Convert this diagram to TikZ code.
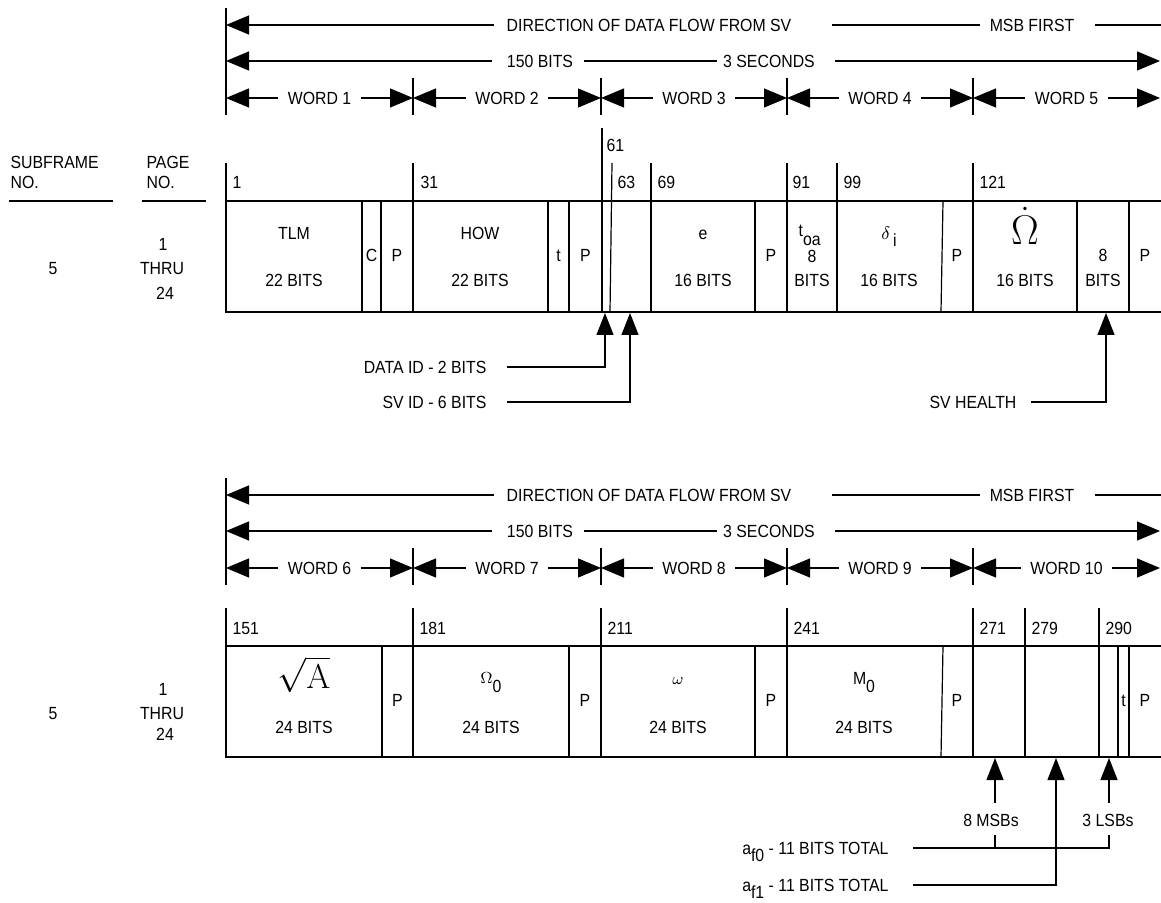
\documentclass[tikz,border=0pt]{standalone}
\usepackage[no-math]{fontspec}
\setmainfont{Liberation Sans}[FakeStretch=0.9]
\usetikzlibrary{arrows.meta}
\newcommand\tsz{\fontsize{8.8}{10}\selectfont}
\begin{document}
\begin{tikzpicture}[x=0.5pt,y=-0.5pt,line width=0.6pt,
  t/.style={inner sep=0pt,font=\tsz,text height=6.3pt,text depth=0pt},
  wl/.style={t,inner xsep=4.5pt},
  num/.style={t,anchor=west},
  >={Triangle[length=11.5pt,width=9.5pt]},
  ptr/.style={-{Triangle[length=11pt,width=8.5pt]}}]
\useasboundingbox (0,0) rectangle (1161,903);

% ---------- arrow rows (both sections) ----------
\foreach \s/\dy/\wofs in {A/0/1, B/470/6}{
  \draw (226,{8+\dy}) -- (226,{115+\dy});
  \node[t] (dir\s) at (649,{25+\dy}) {DIRECTION OF DATA FLOW FROM SV};
  \node[t] (msb\s) at (1032,{25+\dy}) {MSB FIRST};
  \coordinate (dl\s) at (226,{25+\dy});
  \coordinate (dr\s) at (1161,{25+\dy});
  \draw[<-] (dl\s) -- ([xshift=-6pt]dir\s.west);
  \draw ([xshift=20pt]dir\s.east) -- ([xshift=-4.5pt]msb\s.west);
  \draw ([xshift=10pt]msb\s.east) -- (dr\s);
  \node[t] (bits\s) at (540,{61+\dy}) {150 BITS};
  \node[t] (sec\s) at (769,{61+\dy}) {3 SECONDS};
  \coordinate (bl\s) at (226,{61+\dy});
  \coordinate (br\s) at (1160,{61+\dy});
  \draw[<-] (bl\s) -- ([xshift=-7pt]bits\s.west);
  \draw ([xshift=5pt]bits\s.east) -- ([xshift=-3pt]sec\s.west);
  \draw[->] ([xshift=10pt]sec\s.east) -- (br\s);
  \foreach \x in {413,601,787,973}
    \draw (\x,{78+\dy}) -- (\x,{115+\dy});
  \foreach \i/\xl/\xr in {0/226/413,1/413/601,2/601/787,3/787/973,4/973/1160}{
    \pgfmathtruncatemacro\wn{\i+\wofs}
    \node[wl] (w\s\i) at ({(\xl+\xr)/2},{98+\dy}) {WORD \wn};
    \coordinate (wl\s\i) at (\xl,{98+\dy});
    \coordinate (wr\s\i) at (\xr,{98+\dy});
    \draw[<-] (wl\s\i) -- (w\s\i.west);
    \draw[->] (w\s\i.east) -- (wr\s\i);
  }
}

% ---------- left headers ----------
\node[t,anchor=west] (sf1) at (10,162) {SUBFRAME};
\node[t,anchor=west] (sf2) at (10,182) {NO.};
\draw (9,201) -- (113,201);
\node[t,anchor=west] (pg1) at (146,162) {PAGE};
\node[t,anchor=west] (pg2) at (146,182) {NO.};
\draw (142,201) -- (206,201);
\node[t] (sfA) at (53,268) {5};
\node[t] (pgA1) at (163,244) {1};
\node[t] (pgA2) at (162,268) {THRU};
\node[t] (pgA3) at (165,293) {24};
\node[t] (sfB) at (53,713) {5};
\node[t] (pgB1) at (163,689) {1};
\node[t] (pgB2) at (162,713) {THRU};
\node[t] (pgB3) at (165,734) {24};

% ---------- top box ----------
\draw (226,163) -- (226,312) -- (1161,312);
\draw (226,201) -- (1161,201);
\foreach \x in {413,651,787,837,973} \draw (\x,163) -- (\x,312);
\draw (602,128) -- (602,312);
\draw (612,163) -- (610,312);
\foreach \x in {362,381,548,569,755,1077,1129} \draw (\x,201) -- (\x,312);
\draw (943,201) -- (941,312);
\node[num] (n1) at (232,182) {1};
\node[num] (n31) at (420,182) {31};
\node[num] (n61) at (606,145) {61};
\node[num] (n63) at (617,182) {63};
\node[num] (n69) at (657,182) {69};
\node[num] (n91) at (792,182) {91};
\node[num] (n99) at (843,182) {99};
\node[num] (n121) at (979,182) {121};

\node[t] (tlm) at (294,233) {TLM};
\node[t] (tlmb) at (294,280) {22 BITS};
\node[t] (c1) at (371.5,255) {C};
\node[t] (p1) at (397,255) {P};
\node[t] (how) at (480,233) {HOW};
\node[t] (howb) at (480,280) {22 BITS};
\node[t] (tt) at (558.5,255) {t};
\node[t] (p2) at (585.5,255) {P};
\node[t,text height=4.6pt] (ecc) at (703,235) {e};
\node[t] (eccb) at (703,280) {16 BITS};
\node[t] (p3) at (771,255) {P};
\node[inner sep=0pt,font=\tsz,anchor=base west,text depth=0pt] (toa) at (798,237) {t\raisebox{-4.5pt}{oa}};
\node[t] (toa8) at (812,256) {8};
\node[t] (toab) at (812,280) {BITS};
\node[inner sep=0pt,font=\tsz,anchor=base] (di) at (889,240) {$\delta$\,\raisebox{-3.5pt}{i}};
\node[t] (dib) at (889,280) {16 BITS};
\node[t] (p4) at (957,255) {P};
\node[inner sep=0pt,anchor=base,font=\fontsize{20}{20}\selectfont,text depth=0pt] (om) at (1025,245) {$\dot\Omega$};
\node[t] (omb) at (1025,280) {16 BITS};
\node[t] (h8) at (1103,255) {8};
\node[t] (h8b) at (1103,280) {BITS};
\node[t] (p5) at (1145,255) {P};

% top pointers
\coordinate (tipdid) at (605,313);
\coordinate (tipsid) at (630,313);
\coordinate (tiphl) at (1106,313);
\node[t,anchor=east] (did) at (487,367) {DATA ID - 2 BITS};
\node[t,anchor=east] (sid) at (487,402) {SV ID - 6 BITS};
\node[t,anchor=east] (hl) at (1017,402) {SV HEALTH};
\draw[ptr] ([xshift=10pt]did.east) -| (tipdid);
\draw[ptr] ([xshift=10pt]sid.east) -| (tipsid);
\draw[ptr] ([xshift=7pt]hl.east) -| (tiphl);

% ---------- bottom box ----------
\draw (226,608) -- (226,757) -- (1161,757);
\draw (226,646) -- (1161,646);
\foreach \x in {413,601,787,973,1025,1099} \draw (\x,608) -- (\x,757);
\foreach \x in {382,569,755,1118,1129} \draw (\x,646) -- (\x,757);
\draw (943,646) -- (941,757);
\node[num] (n151) at (232,628) {151};
\node[num] (n181) at (419,628) {181};
\node[num] (n211) at (607,628) {211};
\node[num] (n241) at (793,628) {241};
\node[num] (n271) at (979,628) {271};
\node[num] (n279) at (1031,628) {279};
\node[num] (n290) at (1105,628) {290};

\node[inner sep=0pt,anchor=base,font=\fontsize{19}{19}\selectfont] (sqa) at (304,688) {$\sqrt{\mathrm{A}}$};
\node[t] (sqab) at (304,727) {24 BITS};
\node[t] (q1) at (397.5,700) {P};
\node[inner sep=0pt,anchor=base,font=\tsz] (om0) at (491,683) {{\fontsize{8}{8}\selectfont$\Omega$}\raisebox{-4.5pt}{0}};
\node[t] (om0b) at (491,727) {24 BITS};
\node[t] (q2) at (585,700) {P};
\node[inner sep=0pt,font=\fontsize{8}{8}\selectfont] (omg) at (678,681) {$\omega$};
\node[t] (omgb) at (678,727) {24 BITS};
\node[t] (q3) at (771,700) {P};
\node[inner sep=0pt,anchor=base,font=\tsz] (m0) at (864,684) {M\raisebox{-4pt}{0}};
\node[t] (m0b) at (864,727) {24 BITS};
\node[t] (q4) at (957,700) {P};
\node[t] (tb) at (1123.5,700) {t};
\node[t] (q5) at (1145,700) {P};

% bottom pointers
\node[t] (msbs) at (991,820) {8 MSBs};
\node[t] (lsbs) at (1108,820) {3 LSBs};
\coordinate (msbs0) at (995,803);
\coordinate (msbt) at (995,758);
\coordinate (lsbs0) at (1109,803);
\coordinate (lsbt) at (1109,758);
\coordinate (tipa1) at (1056,758);
\coordinate (msbq1) at (995,835);
\coordinate (msbq2) at (995,849);
\coordinate (lsbq) at (1109,835);
\draw[ptr] (msbs0) -- (msbt);
\draw[ptr] (lsbs0) -- (lsbt);
\draw (msbq1) -- (msbq2);
\node[t,anchor=east] (af0) at (889,848) {a\raisebox{-3.5pt}{f0} - 11 BITS TOTAL};
\node[t,anchor=east] (af1) at (889,885) {a\raisebox{-3.5pt}{f1} - 11 BITS TOTAL};
\draw ([xshift=12pt]af0.east) -| (lsbq);
\draw[ptr] ([xshift=12pt]af1.east) -| (tipa1);
\end{tikzpicture}
\end{document}
